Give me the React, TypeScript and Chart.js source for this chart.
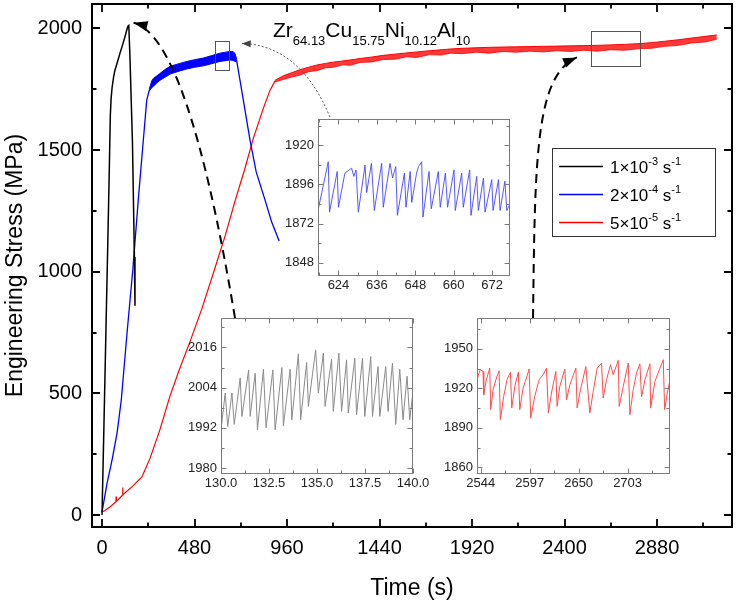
import React, { useEffect, useRef } from 'react';
import { Chart, registerables } from 'chart.js';

Chart.register(...registerables);

const FONT = "'Liberation Sans', Arial, Helvetica, sans-serif";

// ---------------- main chart data ----------------
const BLACK_T = [0, 10, 20, 30, 38, 43, 47, 52, 60, 67, 80, 93, 106, 119, 128, 134, 139, 145, 152, 158, 163, 168, 171];
const BLACK_S = [0, 370, 745, 1120, 1430, 1640, 1710, 1755, 1800, 1828, 1862, 1897, 1930, 1965, 1992, 2008, 2012, 1880, 1690, 1530, 1294, 1060, 860];

const BLUE_T = [0, 26, 52, 78, 100, 130, 160, 188, 210, 232, 245, 258, 266, 285, 300, 325, 353, 400, 440, 480, 526, 570, 612, 640, 664, 680, 690, 699, 730, 768, 800, 846, 880, 919];
const BLUE_S = [12, 130, 226, 337, 473, 750, 1010, 1294, 1500, 1705, 1745, 1760, 1770, 1790, 1800, 1814, 1828, 1840, 1848, 1855, 1862, 1871, 1881, 1885, 1888, 1886, 1880, 1866, 1720, 1541, 1410, 1294, 1205, 1126];

const BLUE_BAND_T = [245, 258, 266, 285, 300, 325, 353, 400, 440, 480, 526, 570, 612, 640, 664, 680, 690, 699];
const BLUE_BAND_LO = [1742, 1757, 1761, 1776, 1786, 1798, 1812, 1824, 1833, 1840, 1846, 1855, 1864, 1867, 1870, 1868, 1864, 1862];
const BLUE_BAND_HI = [1750, 1784, 1794, 1805, 1814, 1830, 1844, 1855, 1864, 1871, 1878, 1888, 1898, 1902, 1905, 1904, 1897, 1872];

const RED_T = [3, 17, 43, 72, 73, 74.5, 90, 106, 107, 108.5, 150, 207, 250, 300, 353, 400, 460, 517, 580, 640, 690, 740, 785, 837, 872, 898];
const RED_S = [14, 20, 34, 55, 76, 56, 68, 82, 113, 84, 112, 157, 235, 350, 490, 595, 720, 845, 1000, 1150, 1290, 1420, 1548, 1671, 1746, 1784];

const RED_BAND_T = [898, 941, 985, 1028, 1071, 1114, 1160, 1200, 1250, 1287, 1340, 1400, 1460, 1520, 1580, 1633, 1700, 1760, 1806, 1870, 1940, 2010, 2080, 2150, 2220, 2290, 2360, 2430, 2500, 2570, 2640, 2710, 2780, 2850, 2920, 2990, 3060, 3130, 3190];
const RED_BAND_HI = [1787, 1805, 1818, 1830, 1840, 1849, 1856, 1861, 1866, 1870, 1876, 1882, 1889, 1894, 1899, 1903, 1908, 1912, 1915, 1918, 1920, 1922, 1923, 1924, 1925, 1926, 1927, 1928, 1929, 1930, 1932, 1934, 1937, 1941, 1947, 1953, 1960, 1967, 1973];
const RED_BAND_LO = [1780, 1790, 1800, 1808, 1822, 1826, 1838, 1840, 1850, 1848, 1860, 1862, 1872, 1873, 1883, 1880, 1892, 1890, 1898, 1896, 1902, 1898, 1905, 1902, 1906, 1903, 1908, 1905, 1910, 1906, 1912, 1910, 1916, 1918, 1926, 1930, 1940, 1944, 1955];

const X_TICKS = [0, 480, 960, 1440, 1920, 2400, 2880];
const X_MINOR = [240, 720, 1200, 1680, 2160, 2640, 3120];
const Y_TICKS = [0, 500, 1000, 1500, 2000];
const Y_MINOR = [250, 750, 1250, 1750];

const RATE_MANT = ['1', '2', '5'];
const RATE_EXP = ['-3', '-4', '-5'];
const TITLE_PARTS: [string, boolean][] = [['Zr', false], ['64.13', true], ['Cu', false], ['15.75', true], ['Ni', false], ['10.12', true], ['Al', false], ['10', true]];

// ---------------- inset data ----------------
const INSET1_T = [617.6, 620.8, 621.2, 623.6, 624.0, 626.0, 628.1, 628.8, 629.5, 630.2, 632.3, 632.8, 634.3, 635.2, 637.5, 638.0, 640.1, 640.9, 641.9, 642.4, 644.6, 645.1, 646.4, 646.9, 648.4, 649.0, 650.0, 650.4, 652.3, 653.0, 655.2, 655.8, 657.4, 658.1, 660.1, 660.5, 662.5, 663.0, 665.0, 665.4, 667.2, 667.7, 669.3, 669.8, 671.9, 672.3, 674.0, 674.5, 676.0, 676.6, 677.6];
const INSET1_S = [1880, 1910, 1879, 1904, 1882, 1903, 1906, 1901, 1905, 1879, 1908, 1891, 1909, 1880, 1909, 1882, 1909, 1900, 1907, 1877, 1903, 1882, 1904, 1885, 1903, 1907, 1910, 1876, 1904, 1881, 1904, 1882, 1903, 1882, 1905, 1880, 1903, 1882, 1905, 1877, 1901, 1880, 1900, 1879, 1899, 1880, 1899, 1880, 1898, 1880, 1884];
const INSET1_X_TICKS = [624, 636, 648, 660, 672];
const INSET1_X_MINOR = [618, 630, 642, 654, 666];
const INSET1_Y_TICKS = [1848, 1872, 1896, 1920];
const INSET1_Y_MINOR = [1860, 1884, 1908, 1932];

const INSET2_T = [130.00, 130.22, 130.35, 130.57, 130.69, 131.00, 131.09, 131.44, 131.52, 131.78, 131.90, 132.21, 132.35, 132.70, 132.82, 133.17, 133.25, 133.60, 133.69, 134.03, 134.15, 134.46, 134.55, 134.93, 135.07, 135.33, 135.42, 135.76, 135.85, 136.14, 136.28, 136.54, 136.63, 136.97, 137.06, 137.37, 137.49, 137.80, 137.89, 138.18, 138.27, 138.58, 138.70, 138.93, 139.10, 139.31, 139.48, 139.69, 139.83, 140.00];
const INSET2_S = [1991.4, 2002.4, 1992.4, 2002.4, 1993.0, 2006.9, 1995.4, 2009.3, 1995.4, 2008.3, 1991.4, 2009.5, 1992.0, 2009.3, 1991.4, 2010.0, 1992.6, 2009.5, 1994.4, 2014.1, 1994.4, 2011.5, 1998.4, 2015.3, 2002.4, 2014.3, 1998.4, 2012.5, 1996.9, 2014.3, 1996.9, 2012.3, 1996.4, 2012.8, 1995.9, 2012.8, 1995.4, 2013.3, 1995.4, 2010.3, 1995.4, 2010.3, 1996.9, 2011.3, 1993.0, 2009.5, 1994.4, 2007.4, 1994.4, 2002.9];
const INSET2_X_TICKS = [130, 132.5, 135, 137.5, 140];
const INSET2_X_MINOR = [131.25, 133.75, 136.25, 138.75];
const INSET2_Y_TICKS = [1980, 1992, 2004, 2016];
const INSET2_Y_MINOR = [1986, 1998, 2010, 2022];

const INSET3_T = [2540.0, 2542.2, 2543.6, 2546.5, 2547.3, 2550.1, 2553.8, 2554.8, 2557.4, 2561.0, 2563.9, 2565.3, 2568.9, 2572.5, 2576.2, 2577.6, 2580.9, 2584.8, 2586.3, 2589.9, 2593.5, 2596.4, 2598.2, 2602.5, 2607.2, 2611.6, 2615.2, 2617.3, 2620.6, 2625.3, 2626.7, 2629.6, 2635.0, 2636.9, 2640.5, 2647.0, 2648.4, 2652.0, 2657.8, 2662.1, 2665.8, 2670.1, 2674.8, 2676.6, 2680.2, 2684.5, 2687.4, 2692.9, 2693.9, 2698.3, 2703.7, 2705.5, 2709.1, 2712.7, 2716.3, 2718.1, 2721.8, 2727.2, 2727.9, 2732.6, 2738.0, 2741.6, 2743.1, 2746.0, 2748.9];
const INSET3_S = [1926.5, 1931.6, 1934.1, 1932.8, 1915.1, 1926.5, 1935.3, 1903.8, 1918.9, 1927.8, 1933.3, 1896.2, 1913.9, 1926.5, 1932.1, 1905.0, 1921.4, 1932.3, 1903.8, 1920.2, 1927.8, 1934.6, 1897.4, 1913.9, 1926.5, 1930.3, 1935.3, 1901.2, 1916.4, 1932.8, 1906.3, 1921.4, 1934.6, 1911.3, 1922.7, 1935.3, 1905.0, 1918.9, 1936.6, 1901.2, 1917.7, 1935.3, 1939.1, 1912.6, 1926.5, 1937.9, 1930.3, 1941.2, 1906.3, 1921.4, 1939.1, 1900.0, 1918.9, 1931.6, 1938.6, 1913.4, 1926.5, 1938.6, 1905.0, 1925.2, 1935.3, 1941.7, 1903.8, 1916.4, 1926.5];
const INSET3_X_TICKS = [2544, 2597, 2650, 2703];
const INSET3_X_MINOR = [2570.5, 2623.5, 2676.5, 2729.5];
const INSET3_Y_TICKS = [1860, 1890, 1920, 1950];
const INSET3_Y_MINOR = [1875, 1905, 1935, 1965];

// annotation geometry in data coordinates of the main chart
const ARROWS = [
  { pts: [[690.1, 809.4], [527.7, 1581.8], [351.8, 1986], [163.5, 2022.6]], color: '#000', width: 2, dash: [9, 6], head: 14, hw: 5 },
  { pts: [[1183.1, 1635.2], [1079.3, 1832.4], [926.8, 1933.5], [724.9, 1938]], color: '#444', width: 0.9, dash: [2, 2], head: 9, hw: 3.5 },
  { pts: [[2236.5, 809.4], [2246.8, 1458.5], [2246.8, 1807.7], [2464.8, 1880.5]], color: '#000', width: 2, dash: [9, 6], head: 14, hw: 5 },
];
const BOXES = [[586.4, 657.5, 1828, 1950], [2537.4, 2793.2, 1843.5, 1989.7]];

const pts = (ts: number[], vs: number[]) => ts.map((t, i) => ({ x: t, y: vs[i] }));

function makeFrame(id: string, o: any) {
  return {
    id,
    afterDatasetsDraw(chart: any) {
      const { ctx, chartArea: a, scales } = chart;
      const x = scales.x, y = scales.y;
      const off = o.crisp ? 0.5 : 0;
      const L = Math.round(a.left) + off, R = Math.round(a.right) - off, T = Math.round(a.top) + off, B = Math.round(a.bottom) - off;
      ctx.save();
      ctx.strokeStyle = o.color;
      ctx.lineWidth = o.tickWidth;
      ctx.beginPath();
      const tx = (v: number, len: number) => {
        const p = Math.round(x.getPixelForValue(v)) + off;
        ctx.moveTo(p, B); ctx.lineTo(p, B - len);
        ctx.moveTo(p, T); ctx.lineTo(p, T + len);
      };
      const ty = (v: number, len: number) => {
        const p = Math.round(y.getPixelForValue(v)) + off;
        ctx.moveTo(L, p); ctx.lineTo(L + len, p);
        ctx.moveTo(R, p); ctx.lineTo(R - len, p);
      };
      o.xMajor.forEach((v: number) => tx(v, o.majorLen));
      o.xMinor.forEach((v: number) => tx(v, o.minorLen));
      o.yMajor.forEach((v: number) => ty(v, o.majorLen));
      o.yMinor.forEach((v: number) => ty(v, o.minorLen));
      ctx.stroke();
      ctx.lineWidth = o.width;
      ctx.strokeRect(L, T, R - L, B - T);
      ctx.restore();
    },
  };
}

function drawRich(ctx: any, x: number, y: number, parts: [string, boolean][], size: number, small: number, shift: number) {
  let cx = x;
  for (const [txt, isSmall] of parts) {
    ctx.font = `${isSmall ? small : size}px ${FONT}`;
    ctx.fillText(txt, cx, isSmall ? y + shift : y);
    cx += ctx.measureText(txt).width;
  }
}

const annotPlugin = {
  id: 'annot',
  afterDraw(chart: any) {
    const { ctx, scales } = chart;
    const x = scales.x, y = scales.y;
    ctx.save();
    ctx.strokeStyle = '#555';
    ctx.lineWidth = 1;
    BOXES.forEach(([t0, t1, v0, v1]) => {
      const px0 = Math.round(x.getPixelForValue(t0)) + 0.5;
      const px1 = Math.round(x.getPixelForValue(t1)) + 0.5;
      const py0 = Math.round(y.getPixelForValue(v1)) + 0.5;
      const py1 = Math.round(y.getPixelForValue(v0)) + 0.5;
      ctx.strokeRect(px0, py0, px1 - px0, py1 - py0);
    });
    ARROWS.forEach((a) => {
      const p = a.pts.map(([t, v]) => [x.getPixelForValue(t), y.getPixelForValue(v)]);
      ctx.strokeStyle = a.color;
      ctx.fillStyle = a.color;
      ctx.lineWidth = a.width;
      ctx.setLineDash(a.dash);
      ctx.beginPath();
      ctx.moveTo(p[0][0], p[0][1]);
      ctx.bezierCurveTo(p[1][0], p[1][1], p[2][0], p[2][1], p[3][0], p[3][1]);
      ctx.stroke();
      ctx.setLineDash([]);
      const dx = p[3][0] - p[2][0], dy = p[3][1] - p[2][1];
      const len = Math.hypot(dx, dy);
      const ux = dx / len, uy = dy / len;
      const bx = p[3][0] - ux * a.head, by = p[3][1] - uy * a.head;
      ctx.beginPath();
      ctx.moveTo(p[3][0], p[3][1]);
      ctx.lineTo(bx - uy * a.hw, by + ux * a.hw);
      ctx.lineTo(bx + uy * a.hw, by - ux * a.hw);
      ctx.closePath();
      ctx.fill();
    });
    ctx.fillStyle = '#000';
    ctx.textBaseline = 'alphabetic';
    ctx.textAlign = 'left';
    drawRich(ctx, 273, 37, TITLE_PARTS, 21, 13, 8);
    ctx.strokeStyle = '#333';
    ctx.lineWidth = 1;
    ctx.strokeRect(552.5, 148.5, 163, 88);
    const colors = ['#000000', '#0000ff', '#ff0000'];
    RATE_MANT.forEach((m, i) => {
      const cy = 166 + i * 28;
      ctx.strokeStyle = colors[i];
      ctx.lineWidth = 1.3;
      ctx.beginPath();
      ctx.moveTo(559, cy + 0.5);
      ctx.lineTo(603, cy + 0.5);
      ctx.stroke();
      ctx.fillStyle = '#000';
      drawRich(ctx, 610, cy + 7, [[m + '×10', false], [RATE_EXP[i], true], [' s', false], ['-1', true]], 17, 11, -8);
    });
    ctx.restore();
  },
};

const fitY = (w: number) => (sc: any) => { sc.width = w; sc.paddingTop = 0; sc.paddingBottom = 0; };
const fitX = (h: number) => (sc: any) => { sc.height = h; sc.paddingLeft = 0; sc.paddingRight = 0; };

function insetConfig(t: number[], s: number[], color: string, xMin: number, xMax: number, yMin: number, yMax: number,
  xTicks: number[], xMinor: number[], yTicks: number[], yMinor: number[], fmt: (v: number) => string,
  axisW: number, axisH: number, padT: number, padR: number): any {
  return {
    type: 'line',
    data: { datasets: [{ data: pts(t, s), borderColor: color, borderWidth: 1, pointRadius: 0, tension: 0, fill: false }] },
    options: {
      animation: false, responsive: false, devicePixelRatio: 1, events: [],
      plugins: { legend: { display: false }, tooltip: { enabled: false } },
      layout: { padding: { left: 0, top: padT, right: padR, bottom: 0 } },
      scales: {
        x: {
          type: 'linear', min: xMin, max: xMax,
          afterBuildTicks: (sc: any) => { sc.ticks = xTicks.map((v) => ({ value: v })); },
          afterFit: fitX(axisH),
          grid: { display: false, drawTicks: false }, border: { display: false },
          ticks: { font: { family: FONT, size: 13 }, color: '#222', padding: 2, maxRotation: 0, autoSkip: false, callback: (v: any) => fmt(Number(v)) },
        },
        y: {
          type: 'linear', min: yMin, max: yMax,
          afterBuildTicks: (sc: any) => { sc.ticks = yTicks.map((v) => ({ value: v })); },
          afterFit: fitY(axisW),
          grid: { display: false, drawTicks: false }, border: { display: false },
          ticks: { font: { family: FONT, size: 13 }, color: '#222', padding: 4, autoSkip: false, callback: (v: any) => String(v) },
        },
      },
    },
    plugins: [makeFrame('insetFrame', { color: '#7a7a7a', width: 1, tickWidth: 1, majorLen: 5, minorLen: 3, crisp: true, xMajor: xTicks, xMinor, yMajor: yTicks, yMinor })],
  };
}

export default function App() {
  const mainRef = useRef<HTMLCanvasElement>(null);
  const in1Ref = useRef<HTMLCanvasElement>(null);
  const in2Ref = useRef<HTMLCanvasElement>(null);
  const in3Ref = useRef<HTMLCanvasElement>(null);

  useEffect(() => {
    const charts: Chart[] = [];
    const main = new Chart(mainRef.current as HTMLCanvasElement, {
      type: 'line',
      data: {
        datasets: [
          { data: pts(BLACK_T, BLACK_S), borderColor: '#000000', borderWidth: 1.5 },
          { data: pts(BLUE_T, BLUE_S), borderColor: '#0000ff', borderWidth: 1.3 },
          { data: pts(BLUE_BAND_T, BLUE_BAND_LO), borderColor: '#0000ff', borderWidth: 1 },
          { data: pts(BLUE_BAND_T, BLUE_BAND_HI), borderColor: '#0000ff', borderWidth: 1, fill: '-1', backgroundColor: '#0000ff' },
          { data: pts(RED_T, RED_S), borderColor: '#ff0000', borderWidth: 1.2 },
          { data: pts(RED_BAND_T, RED_BAND_LO), borderColor: '#ff0000', borderWidth: 0.8 },
          { data: pts(RED_BAND_T, RED_BAND_HI), borderColor: '#ff0000', borderWidth: 1, fill: '-1', backgroundColor: 'rgba(255,0,0,0.78)' },
        ] as any,
      },
      options: {
        animation: false, responsive: false, devicePixelRatio: 1, events: [],
        elements: { point: { radius: 0 }, line: { tension: 0, fill: false } },
        plugins: { legend: { display: false }, tooltip: { enabled: false } },
        layout: { padding: { left: 0, right: 8, top: 4, bottom: 0 } },
        scales: {
          x: {
            type: 'linear', min: -52, max: 3269,
            afterBuildTicks: (sc: any) => { sc.ticks = X_TICKS.map((v) => ({ value: v })); },
            afterFit: fitX(78),
            grid: { display: false, drawTicks: false }, border: { display: false },
            ticks: { font: { family: FONT, size: 20 }, color: '#000', padding: 9, maxRotation: 0, autoSkip: false, callback: (v: any) => String(v) },
            title: { display: true, text: 'Time (s)', font: { family: FONT, size: 23 }, color: '#000', padding: { top: 0, bottom: 3 } },
          },
          y: {
            type: 'linear', min: -49, max: 2100,
            afterBuildTicks: (sc: any) => { sc.ticks = Y_TICKS.map((v) => ({ value: v })); },
            afterFit: fitY(92),
            grid: { display: false, drawTicks: false }, border: { display: false },
            ticks: { font: { family: FONT, size: 20 }, color: '#000', padding: 10, autoSkip: false, callback: (v: any) => String(v) },
            title: { display: true, text: 'Engineering Stress (MPa)', font: { family: FONT, size: 23 }, color: '#000', padding: { top: 2, bottom: 0 } },
          },
        },
      } as any,
      plugins: [
        makeFrame('mainFrame', { color: '#000', width: 2, tickWidth: 1.8, majorLen: 8, minorLen: 4.5, crisp: false, xMajor: X_TICKS, xMinor: X_MINOR, yMajor: Y_TICKS, yMinor: Y_MINOR }),
        annotPlugin,
      ],
    });
    charts.push(main);
    charts.push(new Chart(in1Ref.current as HTMLCanvasElement, insetConfig(INSET1_T, INSET1_S, 'rgba(70,70,255,0.9)', 617.6, 677.6, 1839.7, 1936.3,
      INSET1_X_TICKS, INSET1_X_MINOR, INSET1_Y_TICKS, INSET1_Y_MINOR, (v) => String(v), 50, 23, 10, 10)));
    charts.push(new Chart(in2Ref.current as HTMLCanvasElement, insetConfig(INSET2_T, INSET2_S, '#8a8a8a', 130, 140, 1978.2, 2024.8,
      INSET2_X_TICKS, INSET2_X_MINOR, INSET2_Y_TICKS, INSET2_Y_MINOR, (v) => v.toFixed(1), 50, 24, 10, 20)));
    charts.push(new Chart(in3Ref.current as HTMLCanvasElement, insetConfig(INSET3_T, INSET3_S, '#ff4d4d', 2540, 2748.9, 1855, 1973.3,
      INSET3_X_TICKS, INSET3_X_MINOR, INSET3_Y_TICKS, INSET3_Y_MINOR, (v) => String(v), 50, 24, 10, 20)));
    return () => charts.forEach((c) => c.destroy());
  }, []);

  const abs = (l: number, t: number): React.CSSProperties => ({ position: 'absolute', left: l, top: t, display: 'block' });
  return (
    <div style={{ position: 'absolute', left: 0, top: 0, width: 740, height: 605, background: '#fff' }}>
      <canvas ref={mainRef} width={740} height={605} style={abs(0, 0)} />
      <canvas ref={in1Ref} width={252} height={190} style={abs(268, 109)} />
      <canvas ref={in2Ref} width={262} height={190} style={abs(171, 308)} />
      <canvas ref={in3Ref} width={263} height={190} style={abs(427, 308)} />
    </div>
  );
}
